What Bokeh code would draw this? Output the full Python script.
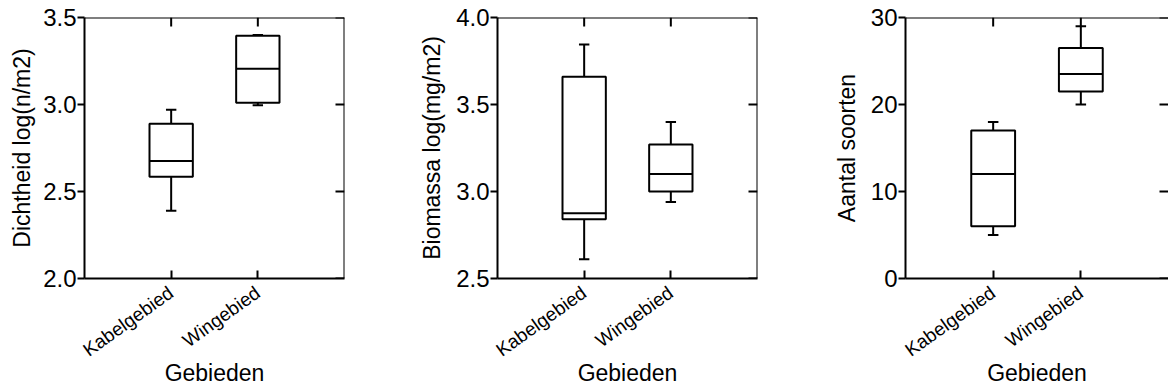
import math
from bokeh.plotting import figure
from bokeh.layouts import row
from bokeh.models import Range1d, FixedTicker, LinearAxis, PrintfTickFormatter, Span
from bokeh.embed import file_html
from bokeh.resources import INLINE

categories = ["Kabelgebied", "Wingebied"]
x_title = "Gebieden"

# Panel 1: density
dens_min = [2.39, 2.995]
dens_q1 = [2.585, 3.01]
dens_med = [2.675, 3.205]
dens_q3 = [2.89, 3.395]
dens_max = [2.97, 3.40]
dens_ticks = [2.0, 2.5, 3.0, 3.5]

# Panel 2: biomass
bio_min = [2.61, 2.94]
bio_q1 = [2.84, 3.00]
bio_med = [2.875, 3.10]
bio_q3 = [3.66, 3.27]
bio_max = [3.845, 3.40]
bio_ticks = [2.5, 3.0, 3.5, 4.0]

# Panel 3: species count
spec_min = [5, 20]
spec_q1 = [6, 21.5]
spec_med = [12, 23.5]
spec_q3 = [17, 26.5]
spec_max = [18, 29]
spec_ticks = [0, 10, 20, 30]

FONT = "Liberation Sans"


def make_panel(ylabel, lo, q1, med, q3, hi, yticks, fmt, width, left, right,
               label_standoff=6, right_line=True):
    xs = list(range(1, len(categories) + 1))
    xmax = len(categories) + 1
    ymin, ymax = yticks[0], yticks[-1]
    p = figure(width=width, height=391,
               x_range=Range1d(0, xmax),
               y_range=Range1d(ymin, ymax),
               output_backend="svg", toolbar_location=None,
               x_axis_location=None, y_axis_location=None,
               min_border_left=left, min_border_right=right,
               min_border_top=17, min_border_bottom=113)
    p.outline_line_color = None
    p.background_fill_color = "white"
    p.border_fill_color = "white"
    p.xgrid.visible = False
    p.ygrid.visible = False

    xt = FixedTicker(ticks=xs, minor_ticks=[])
    yt = FixedTicker(ticks=yticks, minor_ticks=[])

    bottom = LinearAxis(ticker=xt,
                        major_label_overrides={x: c for x, c in zip(xs, categories)},
                        axis_label=x_title, major_label_orientation=0.62)
    bottom.major_tick_in = 8
    bottom.major_tick_out = 0
    bottom.major_label_standoff = 12
    bottom.axis_label_standoff = -12
    bottom.major_label_text_font_size = "19px"
    bottom.axis_label_text_font_size = "23px"

    leftax = LinearAxis(ticker=yt, formatter=PrintfTickFormatter(format=fmt), axis_label=ylabel)
    leftax.major_tick_in = 0
    leftax.major_tick_out = 7
    leftax.major_label_standoff = 1
    leftax.axis_label_standoff = label_standoff
    leftax.major_label_text_font_size = "24px"
    leftax.axis_label_text_font_size = "23px"

    for ax in (bottom, leftax):
        ax.axis_line_width = 2
        ax.axis_line_color = "black"
        ax.major_tick_line_width = 2
        ax.major_tick_line_color = "black"
        ax.minor_tick_line_color = None
        ax.major_label_text_font = FONT
        ax.major_label_text_color = "black"
        ax.axis_label_text_font = FONT
        ax.axis_label_text_font_style = "normal"
        ax.axis_label_text_color = "black"

    p.add_layout(bottom, "below")
    p.add_layout(leftax, "left")

    # top and right frame lines with inward ticks
    p.add_layout(Span(location=ymax, dimension="width", line_color="black", line_width=2))
    if right_line:
        p.add_layout(Span(location=xmax, dimension="height", line_color="black", line_width=2))
    p.ray(x=xs, y=[ymax] * len(xs), length=9, length_units="screen",
          angle=-math.pi / 2, line_color="black", line_width=2)
    p.ray(x=[xmax] * len(yticks), y=yticks, length=9, length_units="screen",
          angle=math.pi, line_color="black", line_width=2)

    half = 0.25
    cap = 0.06
    p.segment(x0=xs, y0=q3, x1=xs, y1=hi, line_color="black", line_width=2)
    p.segment(x0=xs, y0=lo, x1=xs, y1=q1, line_color="black", line_width=2)
    p.segment(x0=[x - cap for x in xs], y0=hi, x1=[x + cap for x in xs], y1=hi,
              line_color="black", line_width=2)
    p.segment(x0=[x - cap for x in xs], y0=lo, x1=[x + cap for x in xs], y1=lo,
              line_color="black", line_width=2)
    p.vbar(x=xs, width=2 * half, bottom=q1, top=q3, fill_color="white",
           line_color="black", line_width=2)
    p.segment(x0=[x - half for x in xs], y0=med, x1=[x + half for x in xs], y1=med,
              line_color="black", line_width=2)
    return p


p1 = make_panel("Dichtheid log(n/m2)", dens_min, dens_q1, dens_med, dens_q3, dens_max,
                dens_ticks, "%.1f", 390, 84, 46, label_standoff=5)
p2 = make_panel("Biomassa log(mg/m2)", bio_min, bio_q1, bio_med, bio_q3, bio_max,
                bio_ticks, "%.1f", 390, 107, 23, label_standoff=8)
p3 = make_panel("Aantal soorten", spec_min, spec_q1, spec_med, spec_q3, spec_max,
                spec_ticks, "%d", 388, 125, 0, label_standoff=8, right_line=False)

layout = row(p1, p2, p3)
open("out.html", "w").write(file_html(layout, INLINE))
